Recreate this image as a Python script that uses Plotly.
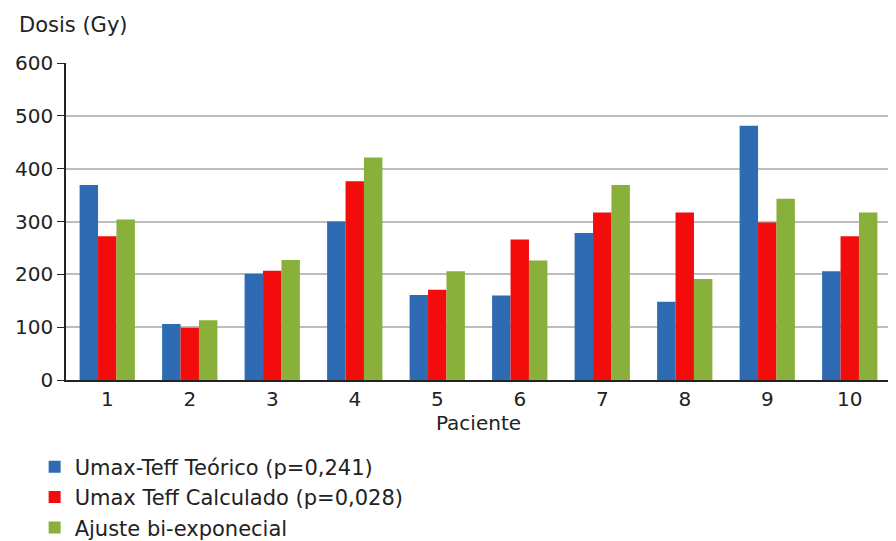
import plotly.graph_objects as go

pacientes = ["1", "2", "3", "4", "5", "6", "7", "8", "9", "10"]
teorico = [369, 106, 201, 300, 161, 160, 278, 148, 481, 206]
calculado = [272, 99, 207, 376, 171, 266, 317, 317, 298, 272]
biexp = [304, 113, 227, 421, 206, 226, 369, 191, 343, 317]

names = ["Umax-Teff Teórico (p=0,241)", "Umax Teff Calculado (p=0,028)", "Ajuste bi-exponecial"]
colors = ["#2F6BB3", "#F20C0C", "#88B03B"]

FONT = "DejaVu Sans"
FS = 20
FL = 21
W, H = 888, 533  # page body has an 8px margin
fig = go.Figure()
for i, (vals, name, col) in enumerate(zip([teorico, calculado, biexp], names, colors)):
    fig.add_trace(go.Bar(x=list(range(1, 11)), y=vals, name=name, marker_color=col,
                         marker_line_width=0, legendgroup=f"g{i}"))

fig.update_layout(
    width=W, height=H,
    margin=dict(l=58, r=5, t=55, b=161, autoexpand=False),
    plot_bgcolor="white", paper_bgcolor="white",
    barmode="group", bargap=0.33, bargroupgap=0,
    font=dict(family=FONT, size=FS, color="#222222"),
    showlegend=True,
    legend=dict(xref="container", yref="container", x=0.030, y=0.177,
                xanchor="left", yanchor="top",
                font=dict(family=FONT, size=FL, color="#222222"),
                itemwidth=30, tracegroupgap=0, bgcolor="rgba(0,0,0,0)"),
    xaxis=dict(range=[0.5, 10.5], tickmode="array", tickvals=list(range(1, 11)),
               ticktext=pacientes, showgrid=False, showline=True, linecolor="#222222",
               linewidth=1.5, ticks="", tickfont=dict(size=FS),
               title=dict(text="Paciente", font=dict(size=FS), standoff=2)),
    yaxis=dict(range=[0, 600], tickvals=[0, 100, 200, 300, 400, 500, 600],
               showgrid=True, gridcolor="#BDBDBD", gridwidth=1.5,
               showline=True, linecolor="#222222", linewidth=1.5,
               ticks="outside", ticklen=7, tickcolor="#222222", tickwidth=1,
               tickfont=dict(size=FS), zeroline=False),
    annotations=[dict(text="Dosis (Gy)", xref="paper", yref="paper", x=-0.06, y=1.12,
                      xanchor="left", yanchor="middle", showarrow=False,
                      font=dict(family=FONT, size=FL, color="#222222"))],
)

fig.write_html("out.html")
